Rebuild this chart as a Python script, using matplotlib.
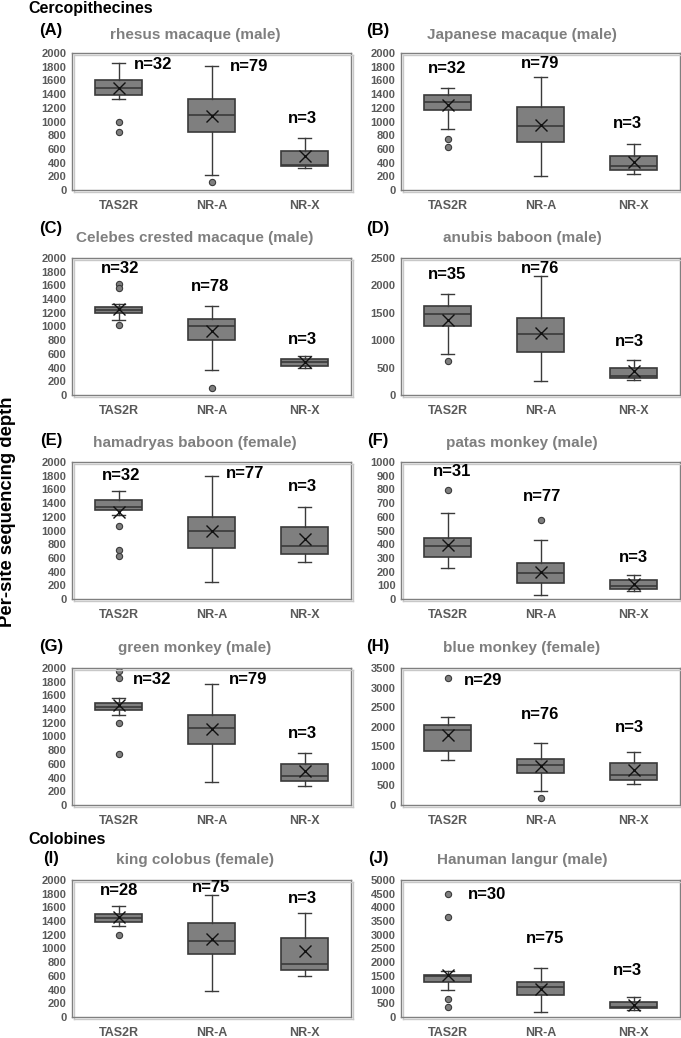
import numpy as np
import matplotlib
matplotlib.use("Agg")
import matplotlib.pyplot as plt
import matplotlib.patheffects as pe

plt.rcParams['font.family'] = ['Liberation Sans', 'DejaVu Sans']
plt.rcParams['font.weight'] = 'bold'

categories = ["TAS2R", "NR-A", "NR-X"]
letters = ["(A)", "(B)", "(C)", "(D)", "(E)", "(F)", "(G)", "(H)", "(I)", "(J)"]
titles = ["rhesus macaque (male)", "Japanese macaque (male)",
          "Celebes crested macaque (male)", "anubis baboon (male)",
          "hamadryas baboon (female)", "patas monkey (male)",
          "green monkey (male)", "blue monkey (female)",
          "king colobus (female)", "Hanuman langur (male)"]
n_counts = [[32, 79, 3], [32, 79, 3], [32, 78, 3], [35, 76, 3], [32, 77, 3],
            [31, 77, 3], [32, 79, 3], [29, 76, 3], [28, 75, 3], [30, 75, 3]]
y_max = [2000, 2000, 2000, 2500, 2000, 1000, 2000, 3500, 2000, 5000]
y_step = [200, 200, 200, 500, 200, 100, 200, 500, 200, 500]

# box statistics: [TAS2R, NR-A, NR-X]
whis_hi = [[1860, 1810, 760], [1490, 1645, 665], [1325, 1305, 570],
           [1847, 2170, 634], [1572, 1800, 1344], [625, 432, 176],
           [1562, 1761, 766], [2241, 1589, 1355], [1622, 1776, 1517],
           [1675, 1800, 725]]
q3 = [[1610, 1325, 565], [1390, 1210, 500], [1285, 1115, 520],
      [1623, 1412, 491], [1443, 1195, 1056], [446, 260, 136],
      [1488, 1318, 602], [2032, 1172, 1068], [1507, 1378, 1154],
      [1550, 1288, 538]]
medians = [[1485, 1090, 370], [1285, 935, 345], [1245, 1010, 475],
           [1474, 1120, 355], [1340, 987, 769], [389, 191, 94],
           [1433, 1119, 418], [1928, 1025, 773], [1443, 1109, 781],
           [1488, 1100, 375]]
q1 = [[1385, 845, 350], [1170, 700, 285], [1195, 810, 420],
      [1256, 784, 305], [1300, 749, 650], [310, 117, 72],
      [1393, 895, 348], [1381, 825, 651], [1393, 915, 687],
      [1262, 788, 312]]
whis_lo = [[1325, 225, 325], [890, 205, 235], [1100, 365, 395],
           [740, 261, 280], [1230, 248, 536], [228, 27, 57],
           [1318, 333, 274], [1138, 356, 530], [1328, 383, 597],
           [975, 200, 250]]
means = [[1490, 1085, 495], [1235, 945, 415], [1260, 940, 475],
         [1375, 1132, 430], [1265, 997, 878], [394, 198, 109],
         [1453, 1109, 493], [1780, 999, 895], [1458, 1139, 965],
         [1525, 1038, 438]]
outliers = [[[1000, 840], [115], []],
            [[750, 625], [], []],
            [[1620, 1560, 1025], [95], []],
            [[616], [], []],
            [[1071, 720, 625], [], []],
            [[794], [575], []],
            [[1955, 1856, 1204, 746], [], []],
            [[3240], [174], []],
            [[1204], [], []],
            [[4488, 3662, 650, 350], [], []]]

# where the n= labels sit (x, y) in each panel
n_pos = [[(1.37, 1825), (2.40, 1800), (2.98, 1040)],
         [(1.0, 1775), (1.99, 1850), (2.94, 975)],
         [(1.02, 1850), (1.98, 1585), (2.98, 810)],
         [(0.99, 2200), (1.99, 2314), (2.96, 977)],
         [(1.03, 1800), (2.36, 1835), (2.98, 1637)],
         [(1.05, 930), (2.02, 746), (3.0, 305)],
         [(1.36, 1826), (2.39, 1826), (2.98, 1045)],
         [(1.38, 3187), (1.99, 2301), (2.96, 1971)],
         [(1.01, 1850), (2.0, 1885), (2.98, 1736)],
         [(1.42, 4462), (2.05, 2875), (2.94, 1712)]]

W, H = 681, 1038
col_left = [72, 401]
row_top = [53, 258, 462, 668, 880]
ax_w, ax_h = 279, 137
letter_y = [30, 228, 441, 646, 858]
title_y = [35, 238, 443, 648, 860]
title_x = [195, 522]
letter_x = [51, 378]


def fx(x):
    return x / W


def fy(y):
    return 1 - y / H


fig = plt.figure(figsize=(W / 100, H / 100), dpi=100)

for i in range(10):
    r, c = divmod(i, 2)
    ax = fig.add_axes([fx(col_left[c]), fy(row_top[r] + ax_h), ax_w / W, ax_h / H])
    stats = []
    for j in range(3):
        stats.append(dict(med=medians[i][j], q1=q1[i][j], q3=q3[i][j],
                          whislo=whis_lo[i][j], whishi=whis_hi[i][j],
                          mean=means[i][j], fliers=outliers[i][j]))
    ax.bxp(stats, positions=[1, 2, 3], widths=0.5, capwidths=0.13,
           showmeans=True, patch_artist=True,
           boxprops=dict(facecolor='#7f7f7f', edgecolor='#3a3a3a', linewidth=1.2),
           medianprops=dict(color='#3a3a3a', linewidth=1.2),
           whiskerprops=dict(color='#3a3a3a', linewidth=1.0),
           capprops=dict(color='#3a3a3a', linewidth=1.0),
           meanprops=dict(marker='x', markeredgecolor='#111111', markersize=8,
                          markeredgewidth=1.0),
           flierprops=dict(marker='o', markerfacecolor='#7f7f7f',
                           markeredgecolor='#3a3a3a', markersize=4.5,
                           markeredgewidth=0.8))
    ax.set_xlim(0.5, 3.5)
    ax.set_ylim(0, y_max[i])
    ax.set_yticks(np.arange(0, y_max[i] + 1, y_step[i]))
    ax.set_xticks([1, 2, 3])
    ax.set_xticklabels(categories)
    ax.tick_params(axis='y', length=0, pad=4, labelsize=8, labelcolor='#595959')
    ax.tick_params(axis='x', length=0, pad=7, labelsize=9, labelcolor='#595959')
    for s in ax.spines.values():
        s.set_color('#7f7f7f')
        s.set_linewidth(1.0)
        s.set_path_effects([pe.SimpleLineShadow(offset=(1.2, -1.2), shadow_color='#c8c8c8', alpha=1),
                            pe.Normal()])
    for j in range(3):
        ax.text(n_pos[i][j][0], n_pos[i][j][1], f"n={n_counts[i][j]}",
                ha='center', va='center', fontsize=12, fontweight='bold', color='black')
    fig.text(fx(title_x[c]), fy(title_y[r]), titles[i], ha='center', va='center',
             fontsize=11, fontweight='bold', color='#7f7f7f')
    fig.text(fx(letter_x[c]), fy(letter_y[r]), letters[i],
             ha='center', va='center', fontsize=12, fontweight='bold', color='black')

fig.text(fx(28), fy(8), "Cercopithecines", ha='left', va='center',
         fontsize=11.5, fontweight='bold', color='black')
fig.text(fx(28), fy(839), "Colobines", ha='left', va='center',
         fontsize=11.5, fontweight='bold', color='black')
fig.text(fx(8), fy(512), "Per-site sequencing depth", rotation=90, ha='center',
         va='center', fontsize=13.3, fontweight='bold', color='black')

fig.savefig("out.png", dpi=100)
